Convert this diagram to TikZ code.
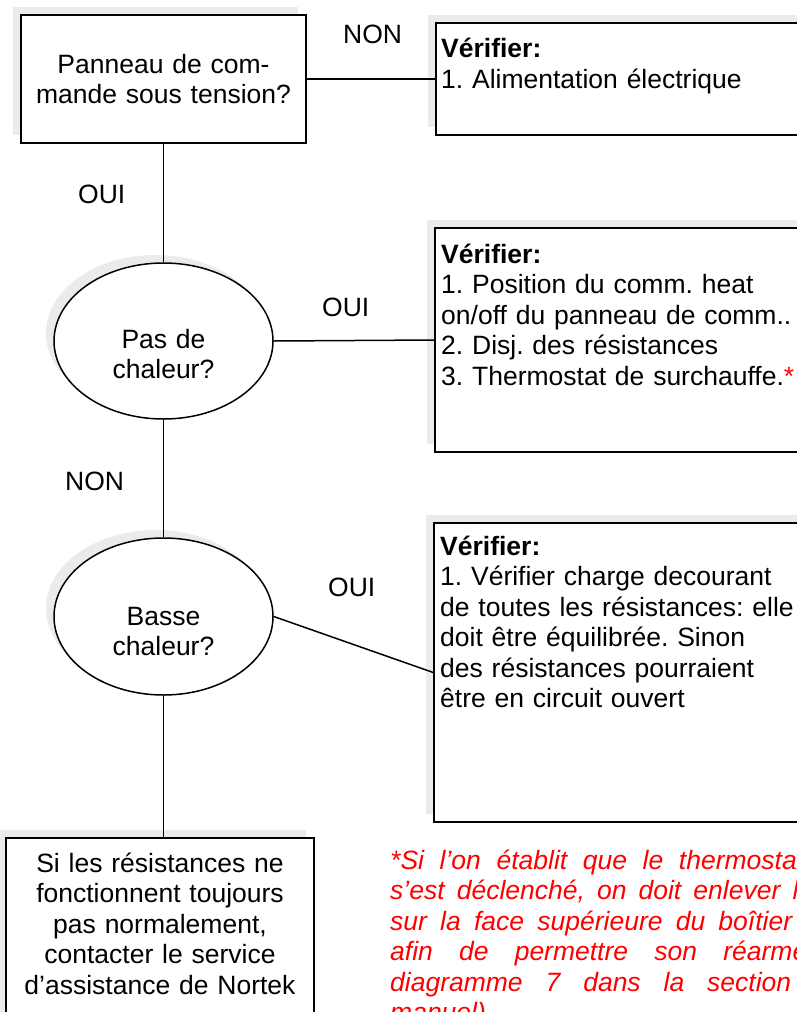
\documentclass[tikz,border=0pt]{standalone}
\usepackage{fontspec}
\setmainfont{Liberation Sans}
\usetikzlibrary{shapes.geometric,shadows}
\frenchspacing

\newcommand{\jline}[2]{\makebox[#1][s]{\spaceskip=0pt\xspaceskip=0pt #2}}

\tikzset{
  txt/.style={inner sep=0pt, font=\fontsize{26.5pt}{30.5pt}\selectfont},
  note/.style={inner sep=0pt, text=red, font=\fontsize{26.5pt}{30.5pt}\selectfont\itshape},
  shadowed/.style={draw, line width=1.5pt, fill=white, inner sep=0pt,
    drop shadow={opacity=1, fill=black!8, shadow xshift=-8pt, shadow yshift=8pt}},
  boxq/.style={shadowed, rectangle},
  ovalq/.style={shadowed, ellipse},
  link/.style={line width=1.5pt}
}

\begin{document}
\begin{tikzpicture}[x=1pt, y=-1pt]
\useasboundingbox (0,0) rectangle (797,1012);
\clip (0,0) rectangle (797,1012);

\node[boxq, minimum width=285pt, minimum height=128pt] (panel) at (163.5,79) {};
\node[boxq, minimum width=464pt, minimum height=112pt] (chk1) at (668,79) {};
\node[ovalq, minimum width=219pt, minimum height=156pt] (heat) at (163.5,341) {};
\node[boxq, minimum width=464pt, minimum height=224pt] (chk2) at (667,340) {};
\node[ovalq, minimum width=219pt, minimum height=157pt] (low) at (163.5,616.5) {};
\node[boxq, minimum width=464pt, minimum height=299pt] (chk3) at (666,672.5) {};
\node[boxq, minimum width=308pt, minimum height=222pt] (nortek) at (160,949) {};

\draw[link] (panel.east) -- (chk1.west);
\draw[link] (panel.south) -- (heat.north);
\draw[link] (heat.east) -- (chk2.west);
\draw[link] (heat.south) -- (low.north);
\draw[link] (low.east) -- (chk3.west);
\draw[link] (low.south) -- (low.south |- nortek.north);

\node[txt, anchor=base, text width=280pt, align=center] (paneltxt) at (163.5,73) {Panneau de com-\\mande sous tension?};
\node[txt, anchor=base, text width=200pt, align=center] (heattxt) at (163.5,348) {Pas de\\chaleur?};
\node[txt, anchor=base, text width=200pt, align=center] (lowtxt) at (163.5,625) {Basse\\chaleur?};
\node[txt, anchor=base, text width=300pt, align=center] (nortektxt) at (160,872) {Si les résistances ne\\fonctionnent toujours\\pas normalement,\\contacter le service\\d’assistance de Nortek};

\node[txt, anchor=base west, text width=420pt, align=left] (chk1txt) at (441,57.5) {\textbf{Vérifier:}\\1. Alimentation électrique};
\node[txt, anchor=base west, text width=420pt, align=left] (chk2txt) at (441,263) {\textbf{Vérifier:}\\1. Position du comm. heat\\on/off du panneau de comm..\\2. Disj. des résistances\\3. Thermostat de surchauffe.\textcolor{red}{*}};
\node[txt, anchor=base west, text width=420pt, align=left] (chk3txt) at (440,555) {\textbf{Vérifier:}\\1. Vérifier charge decourant\\de toutes les résistances: elle\\doit être équilibrée. Sinon\\des résistances pourraient\\être en circuit ouvert};

\node[txt, anchor=base west] (non1) at (343,43) {NON};
\node[txt, anchor=base west] (oui1) at (78,203) {OUI};
\node[txt, anchor=base west] (oui2) at (322,316) {OUI};
\node[txt, anchor=base west] (non2) at (65,490) {NON};
\node[txt, anchor=base west] (oui3) at (328,596) {OUI};

\node[note, anchor=base west, text width=500pt, align=left] (footnote) at (390,869) {\jline{414pt}{*Si l’on établit que le thermostat}\\\jline{423pt}{s’est déclenché, on doit enlever le}\\\jline{402pt}{sur la face supérieure du boîtier}\\\jline{476pt}{afin de permettre son réarmement}\\\jline{401pt}{diagramme 7 dans la section}\\manuel)};
\end{tikzpicture}
\end{document}
